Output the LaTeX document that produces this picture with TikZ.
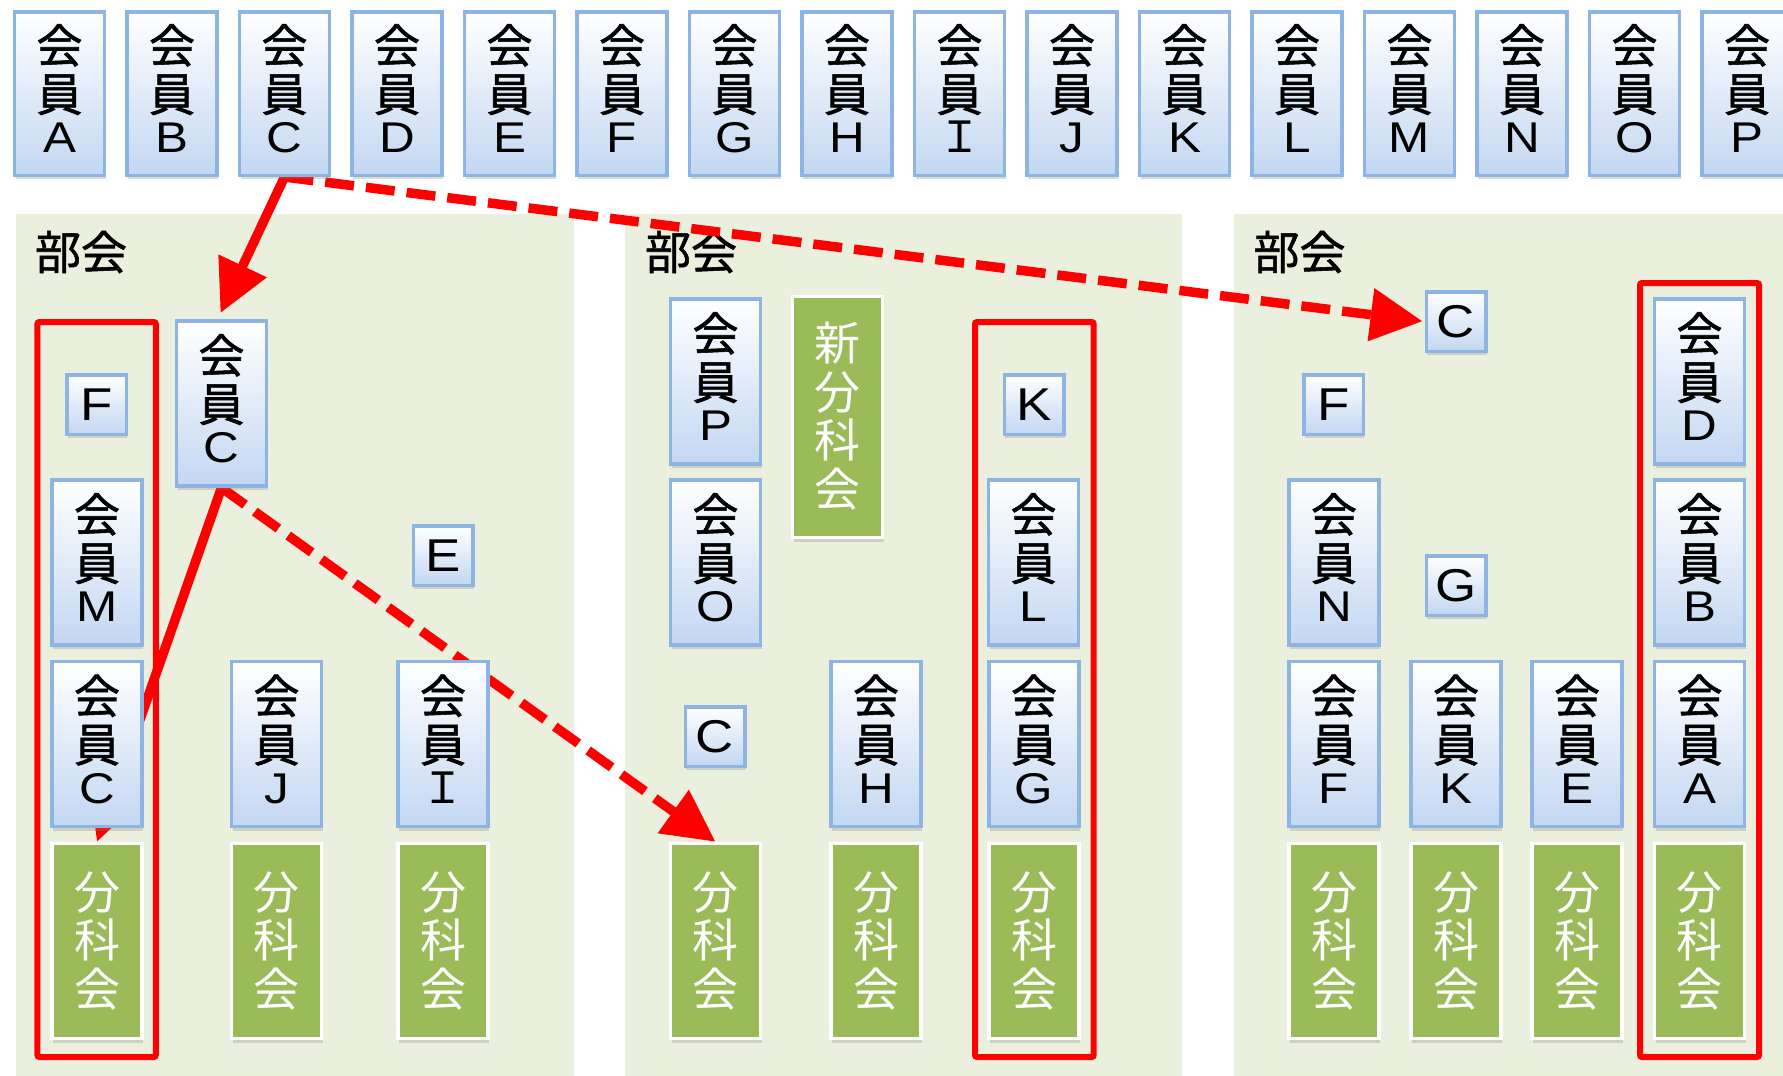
\documentclass[tikz,border=0pt]{standalone}
\usepackage{fontspec}
\setmainfont{Liberation Sans}[FakeStretch=1.15]
\newfontfamily\cjk{Noto Sans CJK JP}
\newfontfamily\cjkb{Noto Sans CJK JP}[FakeBold=1.2]
\usetikzlibrary{arrows.meta,shadows,calc}
\definecolor{panelbg}{RGB}{235,240,222}
\definecolor{boxline}{RGB}{141,180,226}
\definecolor{boxbot}{RGB}{195,215,242}
\definecolor{grnc}{RGB}{155,187,89}
\definecolor{redc}{RGB}{255,0,0}
\pgfdeclarelayer{back}
\pgfdeclarelayer{arr}
\pgfsetlayers{back,arr,main}
\newcommand\jkc[1]{{\cjk\fontsize{46}{48.5}\selectfont #1}}
\newcommand\jkb[1]{{\cjkb\fontsize{46}{48.5}\selectfont #1}}
\newcommand\ltn[1]{{\fontsize{43}{48.5}\selectfont #1}}
\newcommand\kaiin[1]{\jkb{会}\\\jkb{員}\\[-7pt]\ltn{#1}\rule[-10pt]{0pt}{10pt}}
\newcommand\bunka{\jkc{分}\\\jkc{科}\\\jkc{会}\rule[-4pt]{0pt}{4pt}}
\newcommand\fwI{{\cjk Ｉ}}
\tikzset{
  shad/.style={drop shadow={shadow xshift=1pt,shadow yshift=-4pt,opacity=0.28}},
  mem/.style={shad,draw=boxline,line width=3.5pt,top color=white,bottom color=boxbot,
    minimum width=90pt,minimum height=165pt,inner sep=0pt,align=center,
    font=\fontsize{46}{48.5}\selectfont},
  small/.style={shad,draw=boxline,line width=3.5pt,top color=white,bottom color=boxbot,
    minimum width=59.5pt,minimum height=59.5pt,inner sep=0pt,
    font=\fontsize{46}{48}\selectfont},
  grn/.style={shad,draw=white,line width=3.5pt,fill=grnc,text=white,
    minimum width=90pt,minimum height=195pt,inner sep=0pt,align=center,
    font=\fontsize{46}{48.5}\selectfont},
  lab/.style={inner sep=0pt,font=\cjkb\fontsize{46}{48}\selectfont},
  grp/.style={draw=redc,line width=6pt,rounded corners=2pt},
  arr/.style={draw=redc,line width=9.5pt,-{Triangle[length=52pt,width=51pt]}},
  dsh/.style={arr,dash pattern=on 29pt off 12pt}
}
\begin{document}
\begin{tikzpicture}[x=1pt,y=-1pt]
\useasboundingbox (0,0) rectangle (1783,1076);
% top row of members
\foreach \L [count=\i] in {A,B,C,D,E,F,G,H,\fwI,J,K,L,M,N,O,P}
  \node[mem,minimum height=163.5pt] (t\i) at ({59.5+112.5*(\i-1)},93.5) {\kaiin{\L}};
% panel 1
\node[small] (p1F) at (96.5,404.5) {F};
\node[mem] (p1C) at (221.5,403.5) {\kaiin{C}};
\node[mem] (p1M) at (97,562.5) {\kaiin{M}};
\node[mem] (p1C2) at (97,744) {\kaiin{C}};
\node[small] (p1E) at (443,555.5) {E};
\node[mem] (p1J) at (276.5,744) {\kaiin{J}};
\node[mem] (p1I) at (443,744) {\kaiin{\fwI}};
\node[grn] (p1g1) at (97,941) {\bunka};
\node[grn] (p1g2) at (276.5,941) {\bunka};
\node[grn] (p1g3) at (443,941) {\bunka};
% panel 2
\node[mem] (p2P) at (715.5,381.5) {\kaiin{P}};
\node[mem] (p2O) at (715.5,562.5) {\kaiin{O}};
\node[grn,minimum height=241pt] (p2new) at (837.5,417) {\jkc{新}\\\jkc{分}\\\jkc{科}\\\jkc{会}\rule[-5pt]{0pt}{5pt}};
\node[small] (p2K) at (1034,404.5) {K};
\node[mem] (p2L) at (1033.5,562.5) {\kaiin{L}};
\node[small] (p2C) at (715,736.5) {C};
\node[mem] (p2H) at (876,744) {\kaiin{H}};
\node[mem] (p2G) at (1034,744) {\kaiin{G}};
\node[grn] (p2g1) at (715.5,941) {\bunka};
\node[grn] (p2g2) at (876,941) {\bunka};
\node[grn] (p2g3) at (1034,941) {\bunka};
% panel 3
\node[small] (p3C) at (1456,321.5) {C};
\node[small] (p3F) at (1333.5,404.5) {F};
\node[mem] (p3N) at (1334,562.5) {\kaiin{N}};
\node[small] (p3G) at (1456,585.5) {G};
\node[mem] (p3D) at (1699.5,381.5) {\kaiin{D}};
\node[mem] (p3B) at (1699.5,562.5) {\kaiin{B}};
\node[mem] (p3F2) at (1334,744) {\kaiin{F}};
\node[mem] (p3K) at (1456,744) {\kaiin{K}};
\node[mem] (p3E) at (1577,744) {\kaiin{E}};
\node[mem] (p3A) at (1699.5,744) {\kaiin{A}};
\node[grn] (p3g1) at (1334,941) {\bunka};
\node[grn] (p3g2) at (1456,941) {\bunka};
\node[grn] (p3g3) at (1577,941) {\bunka};
\node[grn] (p3g4) at (1699.5,941) {\bunka};
\begin{pgfonlayer}{back}
  \fill[white] (0,0) rectangle (1783,1076);
  \fill[panelbg] (16,214) rectangle (574,1076);
  \fill[panelbg] (625,214) rectangle (1181.5,1076);
  \fill[panelbg] (1233.5,214) rectangle (1790,1076);
  \node[lab] (lab1) at (81,252) {部会};
  \node[lab] (lab2) at (691,252) {部会};
  \node[lab] (lab3) at (1299.5,252) {部会};
  \draw[grp] (37.4,322) rectangle (155.8,1057);
  \draw[grp] (975,322) rectangle (1093.7,1057);
  \draw[grp] (1640,283) rectangle (1759,1057);
\end{pgfonlayer}
\begin{pgfonlayer}{arr}
  \draw[arr,shorten >=7pt] (t3.south) -- ($(p1C.north)+(-4,0)$);
  \draw[dsh,shorten >=2pt] (t3.south) -- (p3C.west);
  \draw[dsh] (p1C.south) -- (p2g1.north);
  \draw[arr] (p1C.south) -- (p1g1.north);
\end{pgfonlayer}
\end{tikzpicture}
\end{document}
